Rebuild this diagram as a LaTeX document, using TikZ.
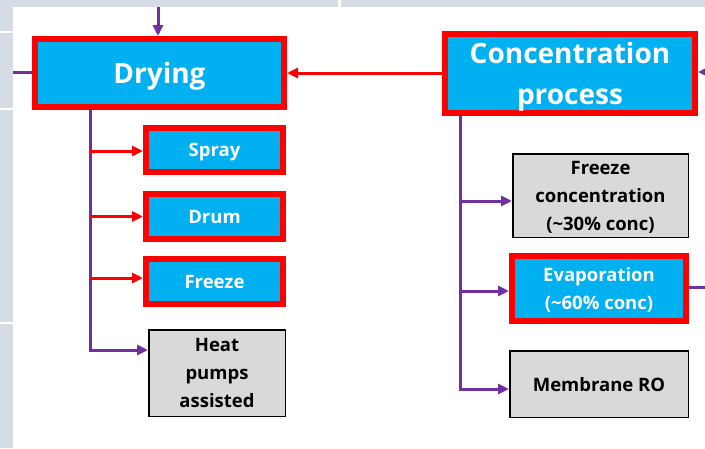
\documentclass[tikz,border=0pt]{standalone}
\usepackage{fontspec}
\setmainfont{Open Sans}
\usetikzlibrary{arrows.meta}
\definecolor{bgray}{HTML}{D6DCE5}
\definecolor{cyanfill}{HTML}{00B0F0}
\definecolor{boxred}{HTML}{FF0000}
\definecolor{lilac}{HTML}{7030A0}
\definecolor{greyfill}{HTML}{D9D9D9}
\tikzset{
  keybox/.style={draw=boxred, line width=6pt, fill=cyanfill, text=white,
    align=center, inner sep=0pt, text depth=0pt},
  bigtext/.style={font=\fontsize{28}{41}\selectfont\bfseries},
  smalltext/.style={font=\fontsize{18.5}{28}\selectfont\bfseries},
  optbox/.style={draw=black, line width=1.5pt, fill=greyfill, text=black,
    align=center, inner sep=0pt, text depth=0pt},
  pline/.style={draw=lilac, line width=3pt},
  parr/.style={pline, -{Triangle[length=11pt,width=10pt]}},
  rarr/.style={draw=boxred, line width=3pt, -{Triangle[length=11pt,width=10pt]}},
}
\begin{document}
\begin{tikzpicture}[x=1pt, y=-1pt]
% page background with the white panel and the cell borders of the frame
\fill[bgray] (0,0) rectangle (705,448);
\fill[white] (13,7) rectangle (705,448);
\fill[white] (0,31) rectangle (13,33);
\fill[white] (0,108) rectangle (13,110);
\fill[white] (0,322) rectangle (13,324);
\fill[white] (338,0) rectangle (341,7);
\useasboundingbox (0,0) rectangle (705,448);

% main stages
\node[keybox, bigtext, minimum width=249pt, minimum height=68pt] (dry) at (159.5,73) {Drying};
\node[keybox, bigtext, minimum width=250pt, minimum height=79pt] (conc) at (570,73.5)
  {Concentration\\process};

% drying methods
\node[keybox, smalltext, minimum width=137pt, minimum height=44pt] (spray) at (214.5,150) {Spray};
\node[keybox, smalltext, minimum width=137pt, minimum height=45pt] (drum) at (214.5,216.5) {Drum};
\node[keybox, smalltext, minimum width=137pt, minimum height=45pt] (frz) at (214.5,281.5) {Freeze};
\node[optbox, smalltext, minimum width=136.5pt, minimum height=86.5pt] (heat) at (217,373)
  {Heat\\pumps\\assisted};

% concentration methods
\node[optbox, smalltext, minimum width=175.5pt, minimum height=83.5pt] (fconc) at (600.5,195.5)
  {Freeze\\concentration\\(\textasciitilde30\% conc)};
\node[keybox, smalltext, minimum width=174pt, minimum height=65pt] (evap) at (599,288.5)
  {Evaporation\\(\textasciitilde60\% conc)};
\node[optbox, smalltext, minimum width=178.5pt, minimum height=66.5pt] (memb) at (599,384)
  {Membrane RO};

% free ends of the connectors
\coordinate (topin) at (158,7);
\coordinate (leftout) at (13,72);
\coordinate (rightin) at (705,72);
\coordinate (rightout) at (705,287);
\coordinate (dtr) at (90,0);
\coordinate (ctr) at (460,0);

% incoming and outgoing flows
\draw[parr] (topin) -- (topin |- dry.north);
\draw[pline] (leftout) -- (leftout -| dry.west);
\draw[parr] (rightin) -- (rightin -| conc.east);
\draw[rarr] (conc.west |- dry.east) -- (dry.east);
\draw[pline] (evap.east |- rightout) -- (rightout);

% drying tree
\draw[parr] (dtr |- dry.south) |- ([yshift=23pt]heat.west);
\draw[rarr] ([yshift=-1pt]spray.west -| dtr) -- ([yshift=-1pt]spray.west);
\draw[rarr] (drum.west -| dtr) -- (drum.west);
\draw[rarr] ([yshift=3.5pt]frz.west -| dtr) -- ([yshift=3.5pt]frz.west);

% concentration tree
\draw[parr] (ctr |- conc.south) |- ([yshift=-5pt]memb.west);
\draw[parr] ([yshift=-5.5pt]fconc.west -| ctr) -- ([yshift=-5.5pt]fconc.west);
\draw[parr] ([yshift=-2.5pt]evap.west -| ctr) -- ([yshift=-2.5pt]evap.west);
\end{tikzpicture}
\end{document}
